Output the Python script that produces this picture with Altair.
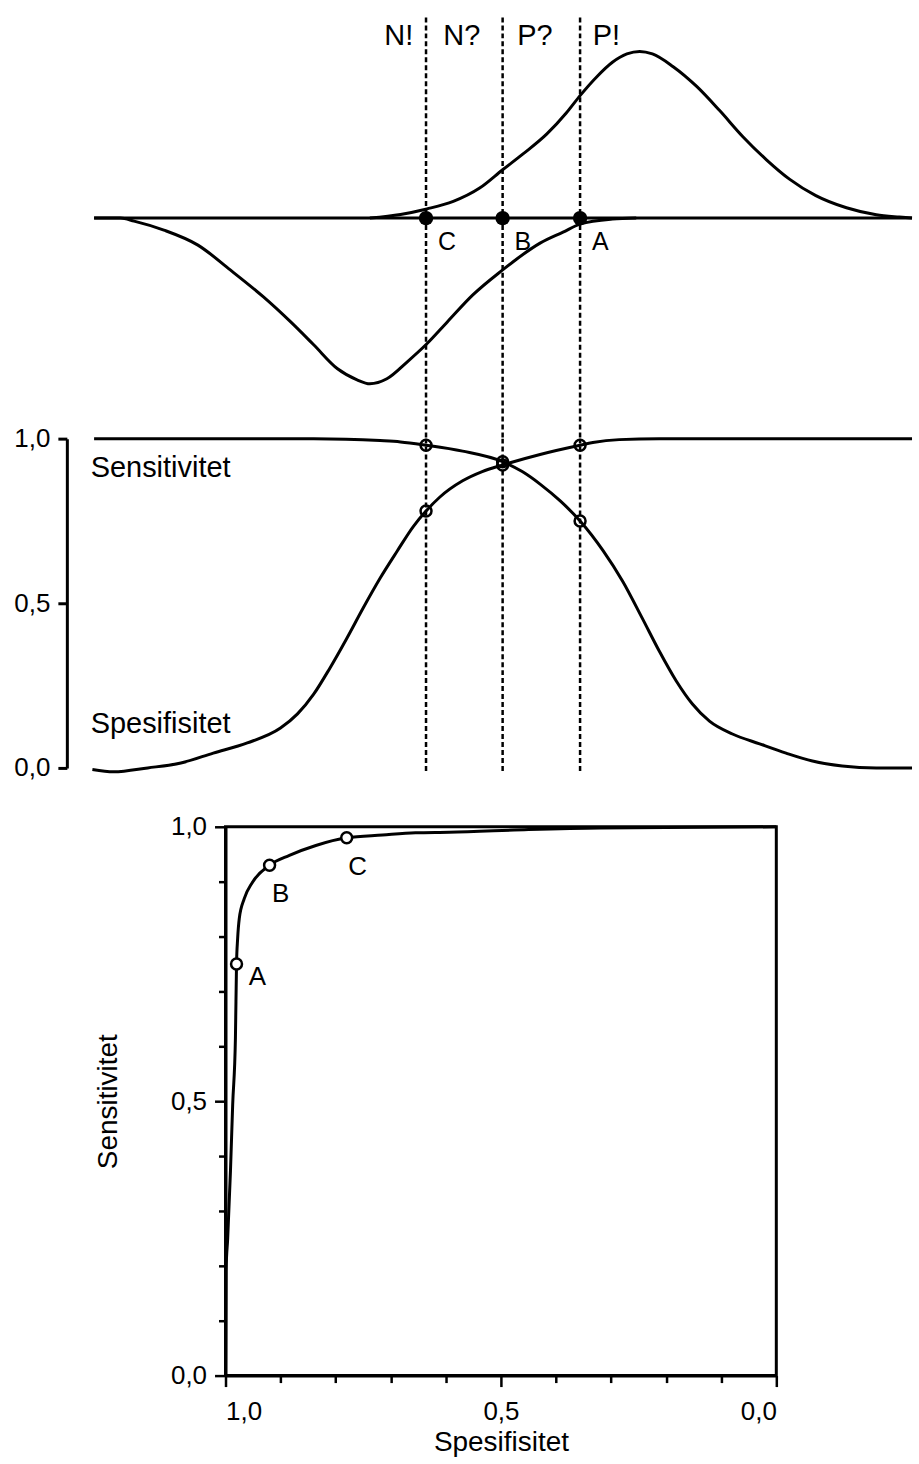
import altair as alt
import pandas as pd

FONT = "Liberation Sans"

# ---- test-value scale (arbitrary units) -------------------------------
x_domain = [0, 99.3]
top_domain = [-1.323, 1.293]      # density panel: healthy drawn downwards, diseased upwards

# cut-off points C, B, A with their sensitivity / specificity
cut_names = ["C", "B", "A"]
cut_values = [42.2, 51.2, 60.3]
cut_sens = [0.98, 0.93, 0.75]
cut_spec = [0.78, 0.92, 0.98]

# decision zones written above the cut-off lines
zone_names = ["N!", "N?", "P?", "P!"]
zone_x = [39.0, 46.4, 55.0, 63.4]
zone_y = 1.036
rule_top = 1.204
rule_bottom_mid = -0.01

# distribution of the diseased (upwards)
pos_x = [35.6, 39.2, 42.3, 45.4, 48.5, 51.2, 53.6, 56.4, 58.7, 60.3, 62.3, 64.1,
         65.8, 67.3, 68.8, 71.2, 74.0, 76.7, 79.4, 82.2, 84.9, 88.0, 91.6, 95.1, 97.8, 99.3]
pos_y = [0, 0.022, 0.055, 0.10, 0.18, 0.29, 0.385, 0.505, 0.632, 0.735, 0.85, 0.935,
         0.985, 1.0, 0.985, 0.91, 0.79, 0.645, 0.49, 0.35, 0.234, 0.135, 0.062, 0.02, 0.006, 0]

# distribution of the healthy (downwards)
neg_x = [3.2, 6.3, 7.9, 11.4, 15.4, 19.2, 23.1, 26.3, 29.0, 31.8, 34.1, 35.6, 37.6, 40.0,
         42.3, 44.7, 47.7, 51.2, 52.4, 55.6, 58.3, 60.3, 64.1, 66.9]
neg_y = [0, 0, -0.018, -0.072, -0.162, -0.311, -0.473, -0.623, -0.760, -0.904, -0.970, -0.994,
         -0.964, -0.862, -0.754, -0.623, -0.461, -0.311, -0.263, -0.150, -0.084, -0.036, -0.006, 0]

baseline_x = [3.2]
baseline_x2 = [99.3]

# sensitivity and specificity as functions of the cut-off
sens_x = [3.2, 29.0, 36.8, 39.2, 42.2, 46.5, 51.2, 53.5, 55.6, 58.0, 60.3, 63.0, 65.3, 67.6,
          69.6, 71.6, 73.5, 75.5, 78.2, 81.4, 84.5, 87.6, 91.1, 95.1, 99.3]
sens_y = [1.0, 1.0, 0.994, 0.99, 0.98, 0.962, 0.93, 0.9, 0.862, 0.81, 0.75, 0.66, 0.567, 0.455,
          0.355, 0.264, 0.194, 0.142, 0.103, 0.073, 0.045, 0.021, 0.006, 0.0, 0.0]
spec_x = [3.0, 5.5, 9.5, 13.4, 17.2, 21.2, 25.1, 27.1, 29.0, 30.9, 32.9, 34.8, 36.8, 38.8,
          40.7, 42.2, 43.8, 46.5, 48.8, 51.2, 55.6, 60.3, 61.8, 64.9, 69.6, 99.3]
spec_y = [-0.005, -0.012, 0.0, 0.015, 0.045, 0.076, 0.121, 0.164, 0.224, 0.303, 0.394, 0.485,
          0.576, 0.658, 0.733, 0.78, 0.822, 0.872, 0.90, 0.92, 0.952, 0.98, 0.988, 0.997, 1.0, 1.0]

curve_labels = ["Sensitivitet", "Spesifisitet"]
curve_label_x = [2.8, 2.8]
curve_label_y = [0.885, 0.106]

# ROC curve (specificity, sensitivity)
roc_spec = [1.0, 0.999, 0.996, 0.991, 0.987, 0.982, 0.98, 0.978, 0.975, 0.966, 0.951, 0.92,
            0.884, 0.836, 0.78, 0.715, 0.655, 0.594, 0.45, 0.32, 0.0]
roc_sens = [0.0, 0.191, 0.251, 0.373, 0.493, 0.615, 0.75, 0.796, 0.833, 0.869, 0.899, 0.93,
            0.948, 0.966, 0.98, 0.985, 0.989, 0.990, 0.995, 0.998, 1.0]
roc_ticks = [0.0, 0.1, 0.2, 0.3, 0.4, 0.5, 0.6, 0.7, 0.8, 0.9, 1.0]

# ---- frames -----------------------------------------------------------
pos_df = pd.DataFrame({"x": pos_x, "y": pos_y})
neg_df = pd.DataFrame({"x": neg_x, "y": neg_y})
base_df = pd.DataFrame({"x": baseline_x, "x2": baseline_x2, "y": [0.0]})
cut_df = pd.DataFrame({"name": cut_names, "x": cut_values, "y": 0.0,
                       "rt": rule_top, "rb": top_domain[0]})
zone_df = pd.DataFrame({"name": zone_names, "x": zone_x, "y": zone_y})
sens_df = pd.DataFrame({"x": sens_x, "y": sens_y})
spec_df = pd.DataFrame({"x": spec_x, "y": spec_y})
mid_rule_df = pd.DataFrame({"x": cut_values, "y": 1.0, "y2": rule_bottom_mid})
mid_pts_df = pd.DataFrame({"x": cut_values * 2, "y": cut_sens + cut_spec})
lab_df = pd.DataFrame({"name": curve_labels, "x": curve_label_x, "y": curve_label_y})
roc_df = pd.DataFrame({"spec": roc_spec, "sens": roc_sens})
roc_pts = pd.DataFrame({"name": cut_names, "spec": cut_spec, "sens": cut_sens})

xs = alt.Scale(domain=x_domain, nice=False)
X = alt.X("x:Q", scale=xs, axis=None)
Y_top = alt.Y("y:Q", scale=alt.Scale(domain=top_domain), axis=None)

# ---- density panel ----------------------------------------------------
line_style = dict(color="black", strokeWidth=3, interpolate="monotone")
top = alt.layer(
    alt.Chart(neg_df).mark_line(**line_style).encode(x=X, y=Y_top),
    alt.Chart(pos_df).mark_line(**line_style).encode(x=X, y=Y_top),
    alt.Chart(base_df).mark_rule(color="black", strokeWidth=3).encode(x=X, x2="x2:Q", y=Y_top),
    alt.Chart(cut_df).mark_rule(color="black", strokeWidth=2.5, strokeDash=[5, 3]).encode(
        x=X, y=alt.Y("rt:Q", scale=alt.Scale(domain=top_domain), axis=None), y2="rb:Q"),
    alt.Chart(cut_df).mark_point(shape="circle", filled=True, size=210, color="black", opacity=1).encode(x=X, y=Y_top),
    alt.Chart(cut_df).mark_text(font=FONT, fontSize=25, align="left", baseline="alphabetic",
                                dx=12, dy=32, color="black").encode(x=X, y=Y_top, text="name:N"),
    alt.Chart(zone_df).mark_text(font=FONT, fontSize=29, align="center", baseline="alphabetic",
                                 color="black").encode(x=X, y=Y_top, text="name:N"),
).properties(width=847, height=437)

# ---- sensitivity / specificity panel ---------------------------------
mid_axis = alt.Axis(values=[0, 0.5, 1], labelExpr="replace(format(datum.value, '.1f'), '.', ',')",
                    title=None, tickSize=9, tickWidth=3, domainWidth=3, domainColor="black",
                    tickColor="black", labelColor="black", labelFont=FONT, labelFontSize=26,
                    labelPadding=8, grid=False)
Y_mid = alt.Y("y:Q", scale=alt.Scale(domain=[0, 1]), axis=mid_axis)
mid = alt.layer(
    alt.Chart(sens_df).mark_line(**line_style).encode(x=X, y=Y_mid),
    alt.Chart(spec_df).mark_line(**line_style).encode(x=X, y=Y_mid),
    alt.Chart(mid_rule_df).mark_rule(color="black", strokeWidth=2.5, strokeDash=[5, 3]).encode(
        x=X, y=Y_mid, y2="y2:Q"),
    alt.Chart(mid_pts_df).mark_point(shape="circle", filled=False, size=120, strokeWidth=2.5,
                                     color="black", opacity=1).encode(x=X, y=Y_mid),
    alt.Chart(lab_df).mark_text(font=FONT, fontSize=29, align="left", baseline="alphabetic",
                                color="black").encode(x=X, y=Y_mid, text="name:N"),
).properties(width=847, height=330)

upper = alt.vconcat(top, mid, spacing=0, bounds="flush")

# ---- ROC panel ---------------------------------------------------------
major = "datum.value == 0 || datum.value == 0.5 || datum.value == 1"
roc_labels = f"({major}) ? replace(format(datum.value, '.1f'), '.', ',') : ''"


def roc_axis(title, pad, label_pad):
    return alt.Axis(values=roc_ticks, labelExpr=roc_labels, title=title, grid=False,
                    tickSize={"condition": {"test": major, "value": 11}, "value": 7},
                    tickWidth=2.5, domainWidth=3, domainColor="black", tickColor="black",
                    labelColor="black", labelFont=FONT, labelFontSize=26, labelPadding=label_pad,
                    titleFont=FONT, titleFontSize=28, titleFontWeight="normal",
                    titleColor="black", titlePadding=pad)


RX = alt.X("spec:Q", scale=alt.Scale(domain=[0, 1], reverse=True),
           axis=roc_axis("Spesifisitet", 4, 12))
RY = alt.Y("sens:Q", scale=alt.Scale(domain=[0, 1]), axis=roc_axis("Sensitivitet", 48, 8))

roc = alt.layer(
    alt.Chart(roc_df).mark_line(**line_style).encode(x=RX, y=RY),
    alt.Chart(roc_pts).mark_point(shape="circle", filled=True, fill="white", stroke="black",
                                  size=120, strokeWidth=2.5, opacity=1).encode(x=RX, y=RY),
    alt.Chart(roc_pts).transform_filter("datum.name == 'A'").mark_text(
        font=FONT, fontSize=26, align="center", baseline="middle", dx=21, dy=13,
        color="black").encode(x=RX, y=RY, text="name:N"),
    alt.Chart(roc_pts).transform_filter("datum.name != 'A'").mark_text(
        font=FONT, fontSize=26, align="center", baseline="middle", dx=11, dy=29,
        color="black").encode(x=RX, y=RY, text="name:N"),
).properties(width=552, height=550, view={"stroke": "black", "strokeWidth": 3})

spacer = alt.Chart(pd.DataFrame({"v": [0.0]})).mark_point(opacity=0).encode(
    x=alt.X("v:Q", axis=None), y=alt.Y("v:Q", axis=None)).properties(width=25, height=550)

lower = alt.hconcat(spacer, roc, spacing=0)

chart = alt.vconcat(upper, lower, spacing=30).properties(
    padding={"left": 13, "top": 0, "right": 0, "bottom": 0}, background="white"
).configure_view(stroke="transparent")

chart.save("out.html", embed_options={"renderer": "svg", "actions": False})
